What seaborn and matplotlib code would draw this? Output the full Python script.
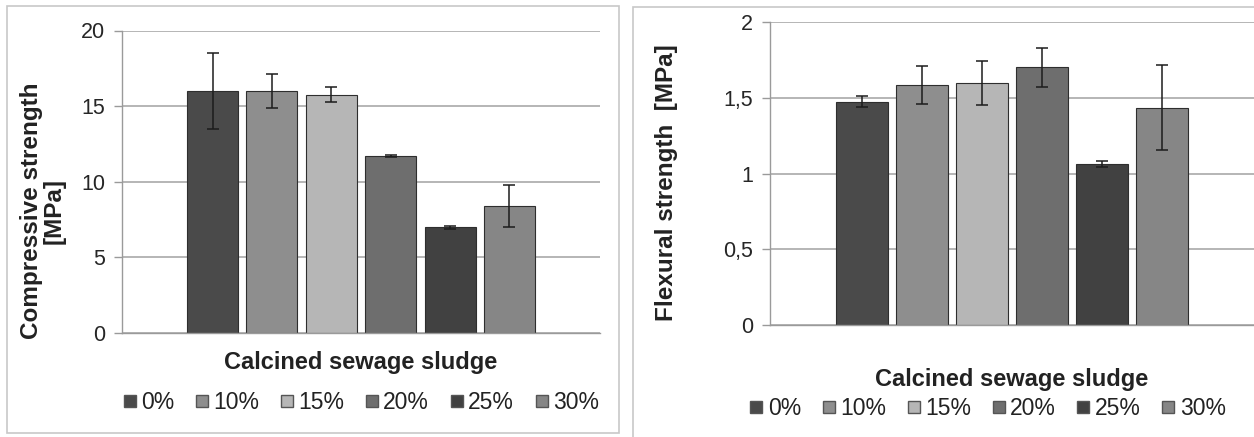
import matplotlib
matplotlib.use("Agg")
import matplotlib.pyplot as plt
import seaborn as sns
import pandas as pd
from matplotlib.patches import Rectangle
from matplotlib.lines import Line2D

# ---------------- data ----------------
levels = ["0%", "10%", "15%", "20%", "25%", "30%"]
compressive = [16.0, 16.0, 15.75, 11.7, 7.0, 8.4]
compressive_err = [2.5, 1.1, 0.5, 0.05, 0.1, 1.4]
flexural = [1.475, 1.585, 1.60, 1.70, 1.065, 1.435]
flexural_err = [0.035, 0.125, 0.145, 0.13, 0.02, 0.28]
group = "Calcined sewage sludge"
left_ticks = [0, 5, 10, 15, 20]
left_tick_labels = ["0", "5", "10", "15", "20"]
right_ticks = [0, 0.5, 1, 1.5, 2]
right_tick_labels = ["0", "0,5", "1", "1,5", "2"]
colors = ["#4a4a4a", "#8e8e8e", "#b6b6b6", "#6e6e6e", "#414141", "#868686"]

sns.set_theme(style="white")
plt.rcParams["font.family"] = ["Liberation Sans", "DejaVu Sans"]

W, H = 1254, 437
fig = plt.figure(figsize=(W / 100, H / 100), dpi=100)


def px_axes(x0, x1, y_top, y_bot):
    return fig.add_axes([x0 / W, 1 - y_bot / H, (x1 - x0) / W, (y_bot - y_top) / H])


def panel(ax, values, errs, ticks, tick_labels, ylabel, ylabel_xy, xpad, leg_xy):
    df = pd.DataFrame({"group": [group] * len(levels), "level": levels, "value": values})
    ax.set_axisbelow(True)
    sns.barplot(data=df, x="group", y="value", hue="level", hue_order=levels,
                palette=colors, width=0.745, gap=0.14, edgecolor="#2e2e2e",
                linewidth=0.8, ax=ax, legend=False, errorbar=None)
    ax.set_xlim(-0.5, 0.5)
    bar_containers = list(ax.containers)
    for i, cont in enumerate(bar_containers):
        p = cont[0]
        ax.errorbar(p.get_x() + p.get_width() / 2, p.get_height(), yerr=errs[i],
                    fmt="none", ecolor="#1c1c1c", elinewidth=1.1, capsize=4,
                    capthick=1.1, zorder=5)
    ax.set_xlim(-0.5, 0.5)
    ax.set_ylim(ticks[0], ticks[-1])
    ax.set_yticks(ticks)
    ax.set_yticklabels(tick_labels, fontsize=15.5, color="#262626")
    ax.set_xticks([])
    ax.grid(axis="y", color="#a9a9a9", linewidth=1.2)
    for s in ["top", "right"]:
        ax.spines[s].set_visible(False)
    for s in ["left", "bottom"]:
        ax.spines[s].set_color("#9a9a9a")
        ax.spines[s].set_linewidth(1.0)
    ax.tick_params(axis="y", left=True, length=6, width=1.0, color="#9a9a9a", pad=6)
    ax.set_xlabel(group, fontsize=17, fontweight="bold", color="#222222", labelpad=xpad)
    ax.set_ylabel(ylabel, fontsize=17.5, fontweight="bold", color="#222222",
                  linespacing=1.0)
    ax.yaxis.set_label_coords(*ylabel_xy)
    handles = [Line2D([], [], marker="s", linestyle="none", markersize=8,
                      markerfacecolor=c, markeredgecolor="#555555") for c in colors]
    ax.legend(handles, levels, loc="center", bbox_to_anchor=leg_xy, ncol=6,
              frameon=False, fontsize=16.5, handletextpad=0.0, columnspacing=0.7,
              handlelength=1.0, borderpad=0, labelcolor="#222222")


ax1 = px_axes(122, 600, 30.5, 333)
panel(ax1, compressive, compressive_err, left_ticks, left_tick_labels,
      "Compressive strength\n[MPa]", (-0.118, 0.403), 13, (0.495, -0.23))

ax2 = px_axes(770, 1254, 22, 325)
panel(ax2, flexural, flexural_err, right_ticks, right_tick_labels,
      "Flexural strength  [MPa]", (-0.19, 0.469), 31, (0.445, -0.275))

fig.add_artist(Rectangle((7 / W, 1 - 433 / H), (619 - 7) / W, (433 - 6) / H,
                         transform=fig.transFigure, fill=False,
                         edgecolor="#c8c8c8", linewidth=1.2))
fig.add_artist(Rectangle((633 / W, -0.05), (W + 20 - 633) / W, 1.05 - 7 / H,
                         transform=fig.transFigure, fill=False,
                         edgecolor="#c8c8c8", linewidth=1.2))

fig.savefig("out.png", dpi=100)
